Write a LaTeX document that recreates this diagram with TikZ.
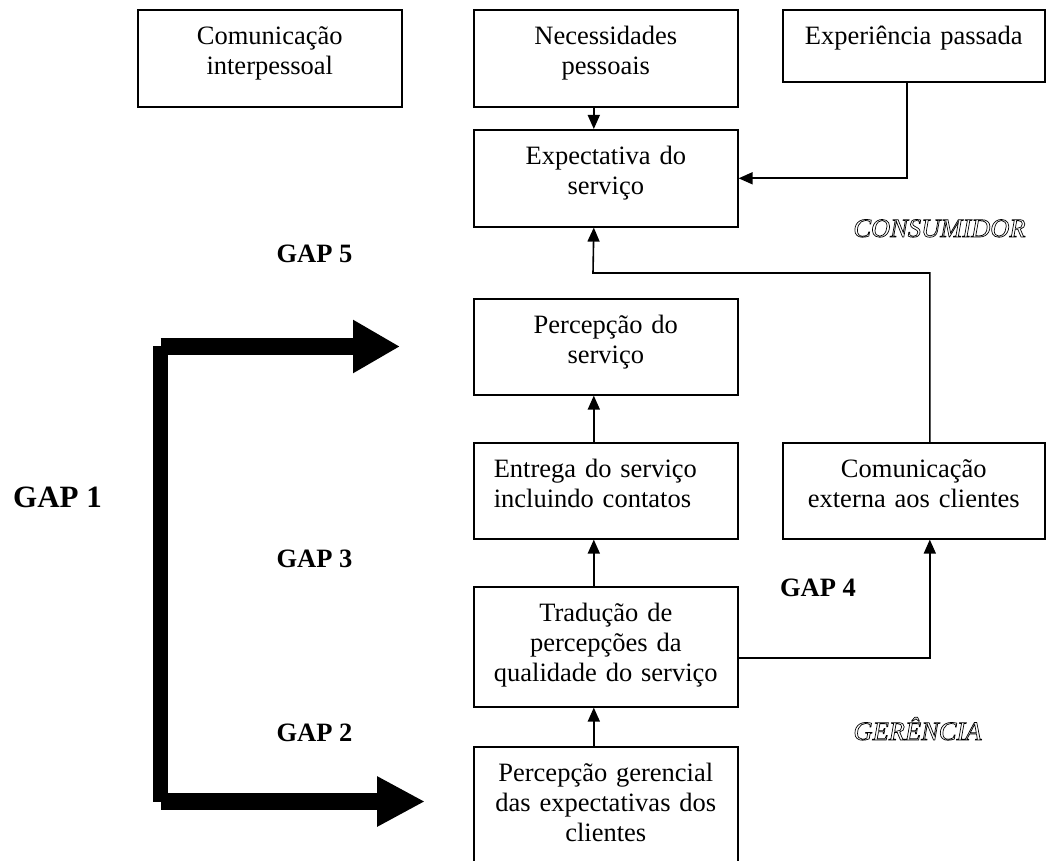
\documentclass[tikz,border=0pt]{standalone}
\usepackage{fontspec}
\setmainfont{Liberation Serif}
\usetikzlibrary{arrows.meta}

\newcommand{\contorno}[1]{\special{pdf:code 1 Tr 0.7 w}#1\special{pdf:code 0 Tr}}

\begin{document}
\begin{tikzpicture}[x=1pt, y=-1pt, line join=miter, >={Triangle[length=14pt,width=12pt]},
    font=\fontsize{26.5pt}{30pt}\selectfont,
    caixa/.style={draw, line width=1.6pt, inner sep=0pt, text width=264pt, align=center, anchor=north west, text height=35pt},
    fino/.style={line width=1.6pt},
    grossa/.style={line width=16.5pt},
    gap/.style={font=\fontsize{26.5pt}{30pt}\selectfont\bfseries, anchor=base}]
    \useasboundingbox (0,0) rectangle (1046,861);
    % caixas
    \node[caixa, text depth=62pt] (interp) at (137,9) {Comunicação\\interpessoal};
    \node[caixa, text depth=62pt] (nec) at (473,9) {Necessidades\\pessoais};
    \node[caixa, text width=262pt, text depth=37pt] (exp) at (782,9) {Experiência passada};
    \node[caixa, text depth=62pt] (expect) at (473,129) {Expectativa do\\serviço};
    \node[caixa, text depth=61pt] (perc) at (473,298) {Percepção do\\serviço};
    \node[caixa, text depth=61pt, align=left, inner xsep=20pt, text width=224pt] (entrega) at (473,442) {Entrega do serviço\\incluindo contatos};
    \node[caixa, text width=262pt, text depth=61pt] (comext) at (782,442) {Comunicação\\externa aos clientes};
    \node[caixa, text depth=85pt] (trad) at (473,586) {Tradução de\\percepções da\\qualidade do serviço};
    \node[caixa, text depth=95pt] (ger) at (473,746) {Percepção gerencial\\das expectativas dos\\clientes};
    % ligacoes
    \coordinate (volta) at (593,273);
    \draw[fino,->] ([xshift=-12pt]nec.south) -- ([xshift=-12pt]expect.north);
    \draw[fino,->] ([xshift=-7pt]exp.south) |- (expect.east);
    \draw[fino,->] ([xshift=16pt]comext.north) |- (volta) -- ([xshift=-12pt]expect.south);
    \draw[fino,->] ([xshift=-12pt]entrega.north) -- ([xshift=-12pt]perc.south);
    \draw[fino,->] ([xshift=-12pt]trad.north) -- ([xshift=-12pt]entrega.south);
    \draw[fino,->] ([yshift=-11pt]trad.east) -| ([xshift=16pt]comext.south);
    \draw[fino,->] ([xshift=-12pt]ger.north) -- ([xshift=-12pt]trad.south);
    % seta grossa do GAP 1
    \draw[line width=15.5pt] (160.5,346) -- (160.5,802);
    \draw[grossa, -{Triangle[length=47pt,width=50pt]}] (160.5,346.5) -- (400,346.5);
    \draw[grossa, -{Triangle[length=48pt,width=47pt]}] (160.5,801.5) -- (425,801.5);
    % rotulos
    \node[gap, font=\fontsize{31pt}{36pt}\selectfont\bfseries] (gap1) at (57.5,507) {GAP 1};
    \node[gap] (gap2) at (314.5,741) {GAP 2};
    \node[gap] (gap3) at (314.5,567) {GAP 3};
    \node[gap] (gap4) at (818,596) {GAP 4};
    \node[gap] (gap5) at (314.5,262) {GAP 5};
    \node[anchor=base, font=\fontsize{26.5pt}{30pt}\selectfont\itshape] (cons) at (939.5,237) {\contorno{CONSUMIDOR}};
    \node[anchor=base, font=\fontsize{26.5pt}{30pt}\selectfont\itshape] (gerencia) at (917.5,740) {\contorno{GERÊNCIA}};
\end{tikzpicture}
\end{document}
